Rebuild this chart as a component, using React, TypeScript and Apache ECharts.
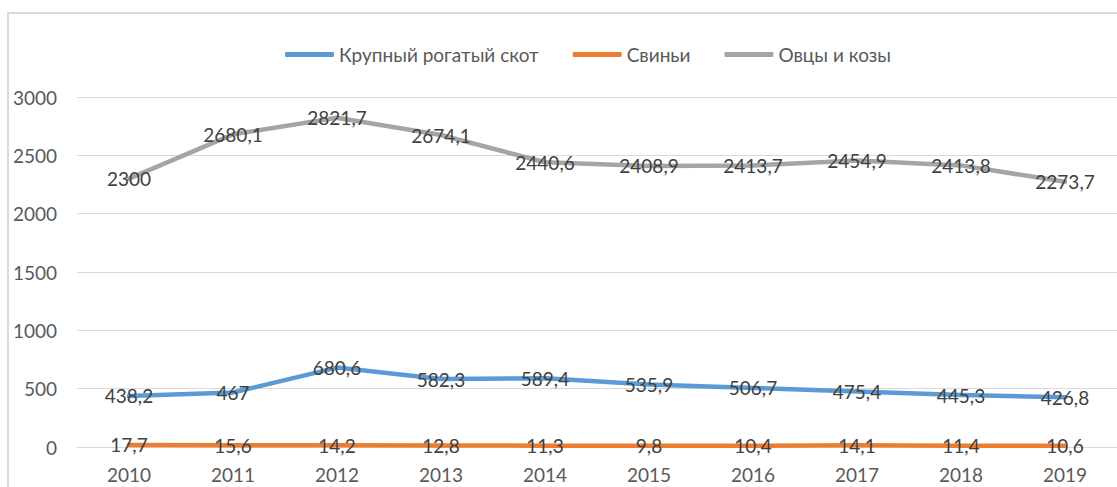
import React, { useEffect, useRef } from "react";
import * as echarts from "echarts";

const years = ["2010", "2011", "2012", "2013", "2014", "2015", "2016", "2017", "2018", "2019"];
const cattle = [438.2, 467, 680.6, 582.3, 589.4, 535.9, 506.7, 475.4, 445.3, 426.8];
const pigs = [17.7, 15.6, 14.2, 12.8, 11.3, 9.8, 10.4, 14.1, 11.4, 10.6];
const sheep = [2300, 2680.1, 2821.7, 2674.1, 2440.6, 2408.9, 2413.7, 2454.9, 2413.8, 2273.7];
const seriesNames = ["Крупный рогатый скот", "Свиньи", "Овцы и козы"];
const seriesColors = ["#5B9BD5", "#ED7D31", "#A5A5A5"];

const FONT = "Lato, 'Open Sans', sans-serif";

export default function App() {
  const ref = useRef<HTMLDivElement>(null);
  useEffect(() => {
    if (!ref.current) return;
    const chart = echarts.init(ref.current, undefined, { renderer: "svg" });
    const mk = (name: string, data: number[], color: string) => ({
      name,
      type: "line",
      data,
      symbol: "circle",
      symbolSize: 0.1,
      showSymbol: true,
      lineStyle: { color, width: 4.5, cap: "round", join: "round" },
      itemStyle: { color },
      label: {
        show: true,
        position: "inside",
        color: "#404040",
        fontFamily: FONT,
        fontSize: 19,
        formatter: (p: any) => String(p.value).replace(".", ","),
      },
      emphasis: { disabled: true },
    });
    chart.setOption({
      animation: false,
      backgroundColor: "#ffffff",
      color: seriesColors,
      graphic: [
        {
          type: "rect",
          shape: { x: 8, y: 13, width: 1200, height: 600 },
          style: { fill: "none", stroke: "#D9D9D9", lineWidth: 2 },
          silent: true,
        },
      ],
      legend: {
        show: true,
        left: 280,
        top: 40,
        itemWidth: 49,
        itemHeight: 5,
        itemGap: 34,
        icon: "roundRect",
        textStyle: { color: "#595959", fontFamily: FONT, fontSize: 19 },
        data: seriesNames,
      },
      grid: { left: 77, right: -13, top: 97, bottom: 40, containLabel: false },
      xAxis: {
        type: "category",
        data: years,
        boundaryGap: true,
        axisLine: { show: true, lineStyle: { color: "#D9D9D9", width: 1 } },
        axisTick: { show: false },
        axisLabel: { color: "#595959", fontFamily: FONT, fontSize: 19, margin: 18 },
      },
      yAxis: {
        type: "value",
        min: 0,
        max: 3000,
        interval: 500,
        axisLine: { show: false },
        axisTick: { show: false },
        splitLine: { lineStyle: { color: "#D9D9D9", width: 1 } },
        axisLabel: {
          color: "#595959",
          fontFamily: FONT,
          fontSize: 19,
          margin: 20,
          formatter: (v: number) => String(v),
        },
      },
      series: [
        mk(seriesNames[0], cattle, seriesColors[0]),
        mk(seriesNames[1], pigs, seriesColors[1]),
        mk(seriesNames[2], sheep, seriesColors[2]),
      ],
    });
    return () => chart.dispose();
  }, []);
  return (
    <div
      ref={ref}
      style={{ position: "fixed", left: 0, top: 0, width: 1117, height: 487, background: "#fff" }}
    />
  );
}
